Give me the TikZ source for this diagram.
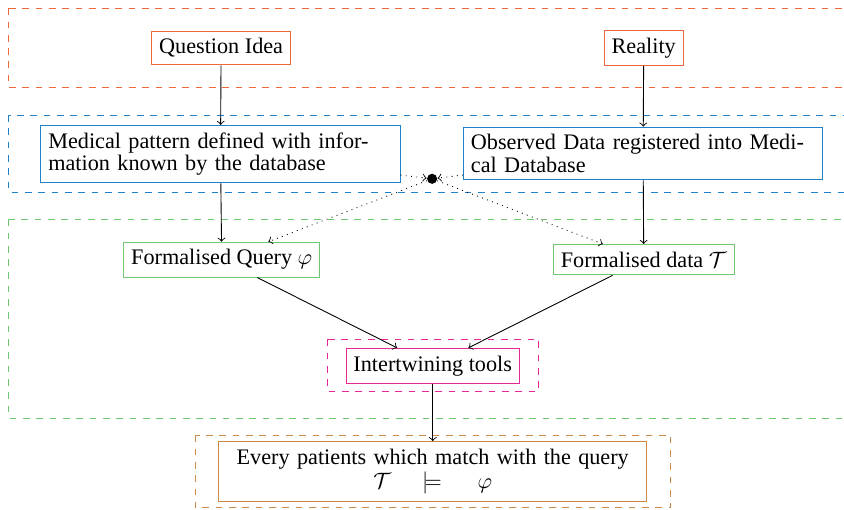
\documentclass[tikz,border=0pt]{standalone}
\usepackage{fontspec}
\setmainfont{Liberation Serif}

\definecolor{ideacolor}{RGB}{238,104,60}
\definecolor{basecolor}{RGB}{30,130,200}
\definecolor{formcolor}{RGB}{110,200,110}
\definecolor{toolcolor}{RGB}{230,40,150}
\definecolor{resultcolor}{RGB}{205,135,70}

\begin{document}
\begin{tikzpicture}[
    box/.style={draw, fill=white, font=\fontsize{10pt}{9pt}\selectfont},
    frame/.style={dashed},
    link/.style={->},
    hint/.style={->, dotted}
]
            \useasboundingbox (0,0) rectangle (13.36,-8.06);

            % Cadres
            \draw[frame, ideacolor] (0.14,-0.13) rectangle (13.8,-1.39);
            \draw[frame, basecolor] (0.14,-1.82) rectangle (13.8,-3.04);
            \draw[frame, formcolor] (0.14,-3.47) rectangle (13.8,-6.62);
            \draw[frame, toolcolor] (5.18,-5.37) rectangle (8.53,-6.19);
            \draw[frame, resultcolor] (3.09,-6.89) rectangle (10.62,-8.04);

            % Sources
            \node[box, draw=ideacolor] (idea) at (3.50,-0.76) {Question Idea};
            \node[box, draw=ideacolor] (reality) at (10.19,-0.76) {Reality};

            % Base medicale
            \node[box, draw=basecolor, text width=5.45cm, align=left] (pattern) at (3.49,-2.44)
                {Medical pattern defined with information known by the database};
            \node[box, draw=basecolor, text width=5.45cm, align=left] (observed) at (10.18,-2.43)
                {Observed Data registered into Medical Database};
            \node[circle, fill=black, inner sep=0pt, minimum size=0.16cm] (dot) at (6.84,-2.83) {};

            % Formalisation
            \node[box, draw=formcolor] (query) at (3.51,-4.11) {Formalised Query $\varphi$};
            \node[box, draw=formcolor] (data) at (10.19,-4.11) {Formalised data $\mathcal{T}$};
            \node[box, draw=toolcolor] (tools) at (6.85,-5.79) {Intertwining tools};

            % Resultat
            \node[box, draw=resultcolor, text width=6.54cm, align=center] (result) at (6.85,-7.46)
                {Every patients which match with the query\\ $\mathcal{T}\hspace{2pt}\models\hspace{4pt}\varphi$};

            % Fleches
            \draw[link] (idea) -- (pattern);
            \draw[link] (reality) -- (observed);
            \draw[link] (pattern) -- (query);
            \draw[link] (observed) -- (data);
            \draw[link] (query) -- (tools);
            \draw[link] (data) -- (tools);
            \draw[link] (tools) -- (result);

            \draw[hint] (pattern) -- (dot);
            \draw[hint] (observed) -- (dot);
            \draw[hint] (dot) -- (query);
            \draw[hint] (dot) -- (data);
        \end{tikzpicture}
\end{document}
